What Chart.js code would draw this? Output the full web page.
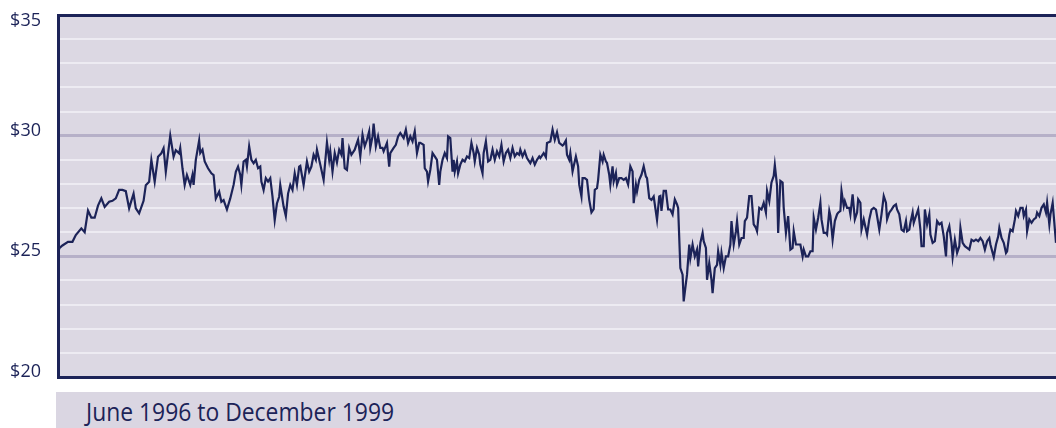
<!DOCTYPE html>
<html>
<head>
<meta charset="utf-8">
<script src="https://cdn.jsdelivr.net/npm/chart.js@4.4.0/dist/chart.umd.min.js"></script>
<style>
    body { margin: 0; background: #ffffff; width: 1056px; height: 428px; overflow: hidden; font-family: 'Open Sans', sans-serif; }
    #wrap { position: absolute; left: 0; top: 0; width: 1056px; height: 390px; }
    #caption {
        position: absolute; left: 56px; top: 392px; width: 1000px; height: 36px;
        background: #dad6e2; color: #1c2358;
        padding-left: 30px; box-sizing: border-box; white-space: nowrap; overflow: hidden;
    }
    #caption span {
        display: inline-block; font-size: 26px; line-height: 38px;
        transform: scaleX(0.88); transform-origin: left center;
    }
</style>
</head>
<body>
<div id="wrap"><canvas id="priceChart" width="1056" height="390"></canvas></div>
<div id="caption"><span>June 1996 to December 1999</span></div>
<script>
// trading days counted from the start of June 1996
const tradingDay = [
    0, 1, 4, 9, 13, 16, 21, 24, 27, 30, 33, 36, 39, 42, 46, 49, 52, 55, 58, 61,
    64, 66, 68, 70, 73, 77, 79, 82, 84, 87, 90, 93, 95, 97, 101, 104, 106, 109,
    110, 112, 114, 116, 119, 121, 122, 124, 127, 128, 130, 132, 135, 138, 140, 142, 145, 147, 149, 152,
    155, 158, 160, 162, 164, 165, 167, 169, 170, 172, 174, 176, 178, 180, 182, 183, 185, 187, 189, 191,
    193, 195, 197, 199, 200, 203, 205, 207, 209, 211, 213, 215, 217,
    218, 221, 224, 226, 228, 230, 232, 233, 236, 239, 242, 244, 245, 247, 249, 251, 253, 255, 256, 258,
    260, 262, 264, 267, 269, 270, 272, 274, 276, 278, 280, 281, 283, 284, 286, 288, 290, 292, 293, 296,
    298, 299, 302, 304, 306, 308, 311, 313, 315, 317, 319, 321, 323, 325,
    326, 329, 330, 332, 333, 335, 337, 339, 341, 343, 344, 346, 348, 350, 351, 353, 355, 356, 357, 359,
    360, 362, 364, 366, 368, 370, 372, 374, 375, 377, 379, 380, 382, 383, 385, 387, 389, 391, 393, 395,
    397, 399, 401, 403, 405, 407, 409, 411, 413, 415, 416, 418, 420, 422, 425, 427, 429, 431, 433,
    434, 437, 439, 440, 443, 445, 447, 449, 451, 454, 455, 457, 458, 460, 461, 463, 464, 466, 468, 469,
    471, 472, 474, 476, 478, 480, 482, 483, 485, 486, 488, 490, 491, 493, 494, 496, 497, 499, 500, 502,
    503, 505, 507, 509, 511, 513, 515, 517, 518, 520, 521, 523, 525, 527, 529, 530, 532, 534, 536, 539, 541,
    542, 543, 545, 547, 549, 551, 553, 555, 557, 558, 560, 562, 563, 565, 566, 568, 569, 571, 573, 575,
    576, 578, 580, 581, 583, 584, 586, 588, 589, 591, 593, 594, 596, 597, 599, 601, 603, 605, 606, 608,
    610, 611, 613, 615, 617, 618, 620, 622, 624, 626, 628, 629, 631, 633, 635, 637, 638, 640, 642, 644,
    645, 647, 648,
    650, 652, 653, 655, 657, 659, 661, 662, 664, 666, 668, 670, 671, 673, 675, 677, 679, 680, 682, 684,
    686, 687, 689, 691, 692, 694, 695, 697, 699, 701, 702, 704, 705, 707, 708, 710, 712, 713, 715, 717,
    719, 720, 722, 723, 725, 727, 728, 730, 732, 734, 736, 737, 739, 741, 743, 745, 746, 748, 750, 752,
    754, 755, 757, 759, 761, 763, 764, 766,
    767, 769, 770, 772, 774, 776, 777, 779, 780, 782, 784, 785, 787, 789, 791, 793, 795, 797, 799, 800,
    802, 804, 805, 807, 809, 811, 812, 814, 816, 818, 820, 822, 824, 826, 828, 830, 832, 834, 836, 838,
    839, 841, 842, 844, 846, 847, 849, 851, 853, 854, 856, 857, 859, 861, 862, 864, 866, 868, 869, 871,
    872, 874, 876, 878, 880, 881, 883, 885, 887, 889, 890, 892, 893, 895, 897, 898
];

// closing price, dollars
const closePrice = [
    24.80, 25.33, 25.45, 25.60, 25.60, 25.88, 26.16, 26.00, 26.90, 26.60, 26.60, 27.10, 27.40, 27.05, 27.26, 27.30, 27.40, 27.75, 27.75, 27.70,
    26.99, 27.30, 27.60, 26.99, 26.78, 27.30, 27.95, 28.09, 28.99, 28.09, 29.13, 29.27, 29.48, 28.50, 30.00, 29.13, 29.40, 29.27,
    29.49, 28.65, 27.96, 28.37, 27.96, 28.37, 27.96, 29.00, 29.80, 29.28, 29.42, 28.93, 28.65, 28.44, 28.37, 27.40, 27.68, 27.26, 27.33, 26.94,
    27.40, 27.96, 28.50, 28.72, 28.37, 27.96, 28.93, 29.00, 28.72, 29.56, 29.00, 28.86, 29.00, 28.65, 28.72, 28.10, 27.75, 28.24, 28.10, 28.24,
    27.47, 26.50, 27.19, 27.47, 27.96, 27.06, 26.67, 27.60, 27.96, 27.75, 28.44, 27.96, 28.72,
    28.75, 27.96, 28.93, 28.51, 28.72, 29.21, 29.00, 29.42, 28.80, 28.17, 29.72, 29.00, 29.35, 28.51, 29.28, 28.89, 29.42, 29.21, 29.90, 28.65,
    28.58, 29.49, 29.21, 29.42, 29.70, 29.83, 29.14, 30.04, 29.56, 29.83, 30.18, 29.49, 29.97, 30.50, 29.56, 29.97, 29.49, 29.49, 29.35, 29.70,
    28.72, 29.28, 29.49, 29.62, 29.97, 30.11, 29.90, 30.25, 29.70, 29.97, 29.76, 30.18, 29.28, 29.70,
    29.70, 29.62, 28.65, 28.51, 28.10, 28.58, 29.28, 29.14, 29.00, 27.96, 28.51, 29.00, 29.28, 29.07, 29.97, 29.90, 28.51, 29.00, 28.51, 28.93,
    28.44, 28.80, 29.00, 28.93, 29.14, 29.07, 29.70, 29.28, 28.93, 29.49, 29.21, 28.80, 28.44, 29.28, 29.76, 28.93, 29.00, 29.42, 29.00, 29.35,
    29.14, 29.62, 28.93, 29.28, 29.42, 29.07, 29.49, 29.14, 29.28, 29.21, 29.42, 29.14, 29.35, 29.07, 28.86, 29.07, 28.80, 29.00, 29.14,
    29.07, 29.28, 29.11, 29.70, 29.76, 30.25, 29.83, 30.14, 29.70, 29.59, 29.63, 29.80, 29.21, 29.00, 29.28, 28.52, 28.73, 29.14, 28.73, 27.97,
    27.48, 28.24, 28.24, 28.17, 27.34, 26.82, 26.96, 27.76, 27.83, 28.17, 29.21, 28.93, 29.21, 28.93, 28.87, 28.38, 27.97, 28.73, 28.10, 28.45,
    27.97, 28.24, 28.24, 28.17, 28.24, 27.97, 28.73, 28.52, 27.20, 27.97, 27.69, 28.17, 28.38, 28.73, 28.31, 28.24, 27.41, 27.34, 27.48, 26.51, 27.48,
    27.50, 26.88, 27.71, 27.71, 26.94, 26.94, 26.74, 27.36, 27.15, 27.01, 24.51, 24.24, 23.13, 23.89, 24.24, 25.49, 24.93, 25.49, 25.00, 25.28,
    24.58, 25.56, 25.97, 25.63, 25.35, 24.03, 24.72, 24.03, 23.47, 24.51, 24.65, 25.21, 24.65, 25.14, 24.51, 25.00, 25.00, 25.49, 26.46, 25.49,
    26.04, 26.46, 25.49, 25.76, 25.76, 26.46, 26.60, 27.50, 27.50, 26.32, 26.18, 26.04, 27.01, 26.94, 27.22, 26.81, 27.71, 27.29, 28.06, 28.33,
    28.78, 27.92, 25.97,
    28.13, 28.06, 27.01, 25.97, 26.67, 25.28, 25.35, 26.04, 25.49, 25.49, 25.49, 25.00, 25.28, 25.00, 25.00, 25.21, 25.21, 26.60, 26.11, 26.60,
    27.22, 26.53, 25.97, 25.97, 25.90, 26.88, 26.67, 25.69, 26.46, 26.74, 26.81, 26.88, 27.71, 27.08, 27.29, 27.01, 27.01, 26.74, 27.57, 26.53,
    26.81, 27.36, 27.22, 26.11, 26.53, 26.11, 25.90, 26.53, 26.94, 27.01, 26.94, 26.67, 26.11, 26.74, 27.50, 27.22, 26.53, 26.81, 26.94, 27.08,
    27.15, 26.94, 26.74, 26.11, 26.04, 26.46, 26.04, 26.11,
    26.39, 26.81, 26.39, 26.67, 26.94, 26.11, 25.42, 25.42, 26.94, 26.32, 26.74, 25.90, 25.56, 25.63, 26.46, 26.32, 26.39, 25.83, 25.00, 25.97,
    26.25, 25.56, 24.97, 25.69, 25.14, 25.42, 26.18, 25.56, 25.42, 25.35, 25.28, 25.69, 25.63, 25.69, 25.63, 25.76, 25.63, 25.28, 25.63, 25.76,
    25.49, 25.14, 24.97, 25.49, 25.83, 26.18, 25.76, 25.56, 25.14, 25.21, 25.90, 26.11, 26.04, 26.53, 26.88, 26.67, 27.01, 27.01, 26.67, 26.94,
    26.04, 26.53, 26.39, 26.53, 26.60, 26.81, 26.67, 27.01, 27.15, 26.81, 27.22, 26.32, 26.74, 27.22, 26.11, 25.56
];

const priceTicks = [20, 25, 30, 35];

const NAVY = '#1c2358';
const PLOT_BG = '#dcd8e3';
const MAJOR_GRID = '#b6b0c8';
const MINOR_GRID = '#edebf2';

const plotBackground = {
    id: 'plotBackground',
    beforeDraw(chart) {
        const { ctx, chartArea } = chart;
        ctx.save();
        ctx.fillStyle = PLOT_BG;
        ctx.fillRect(chartArea.left, chartArea.top, chartArea.right - chartArea.left, chartArea.bottom - chartArea.top);
        ctx.restore();
    }
};

const points = tradingDay.map((d, i) => ({ x: d, y: closePrice[i] }));

// frame lines top and bottom are the $35 and $20 grid lines
function gridColor(c) {
    const v = c.tick.value;
    if (v === 35 || v === 20) return NAVY;
    return v % 5 === 0 ? MAJOR_GRID : MINOR_GRID;
}

// labels sit a little above their line; the top one is pushed down inside the canvas
function tickLabel(v) {
    if (!priceTicks.includes(v)) return '';
    return v === 35 ? ['', '$' + v] : '$' + v;
}

new Chart(document.getElementById('priceChart'), {
    type: 'line',
    data: {
        datasets: [{
            data: points,
            borderColor: NAVY,
            borderWidth: 2.2,
            pointRadius: 0,
            tension: 0,
            fill: false
        }]
    },
    options: {
        responsive: false,
        animation: false,
        layout: { padding: { top: 15, right: 0, bottom: 13, left: 0 } },
        plugins: { legend: { display: false }, tooltip: { enabled: false } },
        scales: {
            x: {
                type: 'linear',
                display: false,
                min: 0,
                max: tradingDay[tradingDay.length - 1]
            },
            y: {
                min: 20,
                max: 35,
                ticks: {
                    stepSize: 1,
                    autoSkip: false,
                    padding: 17,
                    labelOffset: -5,
                    color: NAVY,
                    font: { family: "'Open Sans', sans-serif", size: 18 },
                    callback: tickLabel
                },
                grid: {
                    drawTicks: false,
                    color: gridColor,
                    lineWidth: c => c.tick.value % 5 === 0 ? 3 : 2
                },
                border: { color: NAVY, width: 3 },
                afterFit: s => { s.width = 58; s.paddingTop = 0; s.paddingBottom = 0; }
            }
        }
    },
    plugins: [plotBackground]
});
</script>
</body>
</html>
